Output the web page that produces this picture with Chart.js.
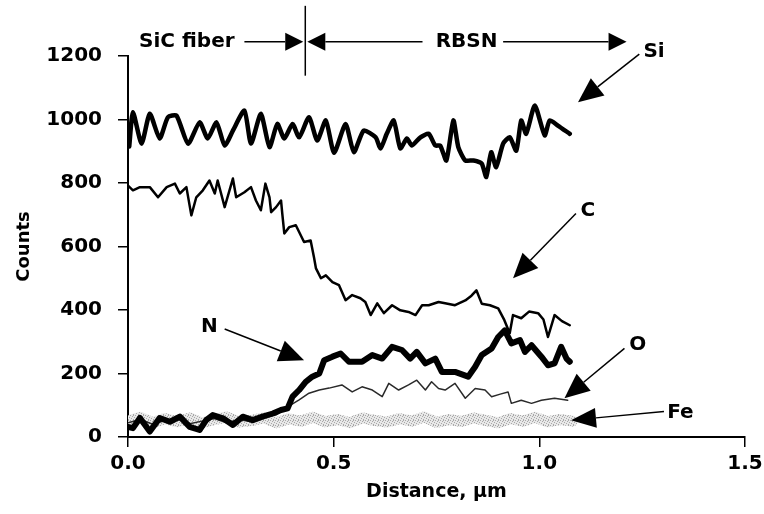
<!DOCTYPE html>
<html>
<head>
<meta charset="utf-8">
<script src="https://cdn.jsdelivr.net/npm/chart.js@4.4.1/dist/chart.umd.min.js"></script>
<style>
html, body { margin: 0; padding: 0; background: #fff; }
</style>
</head>
<body>
<canvas id="mychart" width="764" height="514"></canvas>
<script>
// line scan values (distance in um, counts)
var siX = [0.003, 0.012, 0.033, 0.053, 0.077, 0.097, 0.118, 0.146, 0.174, 0.194, 0.215, 0.235, 0.255, 0.283, 0.299, 0.323, 0.344, 0.363, 0.380, 0.400, 0.416, 0.440, 0.460, 0.481, 0.501, 0.529, 0.549, 0.573, 0.602, 0.614, 0.629, 0.646, 0.662, 0.678, 0.690, 0.711, 0.731, 0.747, 0.759, 0.774, 0.791, 0.803, 0.820, 0.840, 0.860, 0.871, 0.883, 0.895, 0.912, 0.928, 0.944, 0.956, 0.968, 0.989, 1.013, 1.025, 1.045, 1.074];
var siY = [915, 1023, 924, 1018, 940, 1007, 1012, 924, 991, 940, 991, 918, 965, 1028, 924, 1018, 913, 986, 940, 986, 944, 1007, 934, 997, 895, 986, 897, 965, 944, 909, 955, 997, 909, 940, 918, 944, 955, 918, 918, 871, 997, 913, 871, 871, 861, 819, 897, 850, 924, 944, 902, 997, 955, 1044, 950, 997, 981, 955];

var cX = [0.0, 0.012, 0.029, 0.053, 0.073, 0.094, 0.114, 0.126, 0.142, 0.154, 0.166, 0.182, 0.198, 0.211, 0.218, 0.235, 0.255, 0.263, 0.283, 0.299, 0.311, 0.323, 0.334, 0.344, 0.348, 0.360, 0.372, 0.375, 0.380, 0.392, 0.408, 0.428, 0.444, 0.452, 0.457, 0.469, 0.481, 0.497, 0.513, 0.529, 0.545, 0.565, 0.577, 0.590, 0.606, 0.622, 0.642, 0.662, 0.682, 0.699, 0.715, 0.731, 0.755, 0.771, 0.795, 0.820, 0.835, 0.847, 0.860, 0.880, 0.900, 0.915, 0.928, 0.936, 0.956, 0.975, 0.997, 1.010, 1.021, 1.037, 1.055, 1.074];
var cY = [792, 777, 787, 787, 755, 787, 798, 767, 787, 698, 755, 777, 808, 767, 808, 724, 814, 755, 771, 787, 745, 714, 798, 755, 708, 724, 745, 704, 641, 661, 667, 614, 619, 567, 531, 500, 509, 488, 478, 431, 447, 437, 425, 384, 421, 390, 415, 399, 394, 384, 415, 415, 425, 421, 415, 430, 445, 462, 420, 415, 405, 368, 327, 384, 374, 395, 390, 370, 315, 384, 365, 352];

var nX = [0.0, 0.012, 0.029, 0.053, 0.077, 0.102, 0.126, 0.150, 0.174, 0.190, 0.206, 0.231, 0.255, 0.279, 0.303, 0.327, 0.352, 0.372, 0.388, 0.400, 0.416, 0.432, 0.448, 0.465, 0.477, 0.497, 0.517, 0.537, 0.569, 0.594, 0.618, 0.642, 0.666, 0.686, 0.702, 0.723, 0.747, 0.763, 0.795, 0.827, 0.844, 0.860, 0.884, 0.900, 0.916, 0.932, 0.953, 0.965, 0.981, 1.005, 1.021, 1.037, 1.053, 1.066, 1.074];
var nY = [32, 28, 60, 17, 60, 48, 64, 32, 22, 53, 69, 59, 38, 64, 53, 64, 74, 85, 90, 127, 148, 174, 190, 200, 242, 253, 263, 237, 237, 258, 247, 284, 274, 247, 268, 232, 247, 205, 205, 190, 221, 258, 279, 315, 336, 295, 305, 268, 289, 253, 226, 232, 284, 247, 237];

var oX = [0.0, 0.03, 0.06, 0.09, 0.12, 0.15, 0.18, 0.21, 0.24, 0.27, 0.30, 0.33, 0.36, 0.388, 0.416, 0.440, 0.465, 0.489, 0.520, 0.545, 0.569, 0.594, 0.618, 0.634, 0.658, 0.682, 0.702, 0.723, 0.738, 0.755, 0.771, 0.795, 0.820, 0.844, 0.868, 0.884, 0.905, 0.924, 0.932, 0.956, 0.981, 1.005, 1.037, 1.069];
var oY = [45, 55, 40, 52, 60, 42, 50, 58, 45, 55, 48, 62, 70, 95, 117, 138, 148, 154, 164, 142, 158, 148, 127, 169, 148, 164, 179, 148, 174, 153, 148, 169, 122, 153, 148, 127, 135, 142, 106, 116, 106, 116, 122, 116];

var feX = [0.00, 0.03, 0.06, 0.09, 0.12, 0.15, 0.18, 0.21, 0.24, 0.27, 0.30, 0.33, 0.36, 0.39, 0.42, 0.45, 0.48, 0.51, 0.54, 0.57, 0.60, 0.63, 0.66, 0.69, 0.72, 0.75, 0.78, 0.81, 0.84, 0.87, 0.90, 0.93, 0.96, 0.99, 1.02, 1.05, 1.08];
var feY = [50, 62, 45, 58, 48, 60, 44, 55, 63, 47, 52, 60, 45, 57, 50, 62, 48, 55, 45, 60, 52, 47, 58, 50, 63, 46, 55, 49, 60, 52, 45, 58, 50, 62, 48, 55, 50];

var xTicks = [0, 0.5, 1.0, 1.5];

// labels and arrows, in data units
var labels = [
    {text: 'SiC fiber', x: 0.143, y: 1245},
    {text: 'RBSN', x: 0.823, y: 1245},
    {text: 'Si', x: 1.279, y: 1212},
    {text: 'C', x: 1.118, y: 714},
    {text: 'N', x: 0.198, y: 346},
    {text: 'O', x: 1.239, y: 289},
    {text: 'Fe', x: 1.343, y: 75}
];
var arrows = [
    {x0: 0.283, y0: 1245, x1: 0.426, y1: 1245, len: 18, half: 9},
    {x0: 0.716, y0: 1245, x1: 0.436, y1: 1245, len: 18, half: 9},
    {x0: 0.912, y0: 1245, x1: 1.212, y1: 1245, len: 18, half: 9},
    {x0: 1.243, y0: 1206, x1: 1.094, y1: 1054, len: 25, half: 11},
    {x0: 1.089, y0: 704, x1: 0.936, y1: 500, len: 25, half: 11},
    {x0: 0.235, y0: 340, x1: 0.428, y1: 242, len: 25, half: 11},
    {x0: 1.207, y0: 279, x1: 1.061, y1: 122, len: 25, half: 11},
    {x0: 1.303, y0: 80, x1: 1.077, y1: 53, len: 25, half: 10}
];
var divider = {x: 0.431, y0: 1358, y1: 1138};

function pts(xs, ys) {
    var out = [];
    for (var i = 0; i < xs.length; i++) out.push({x: xs[i], y: ys[i]});
    return out;
}

// stippled grey for the Fe trace
var pc = document.createElement('canvas');
pc.width = 5; pc.height = 5;
var pctx = pc.getContext('2d');
pctx.fillStyle = '#e8e8e8';
pctx.fillRect(0, 0, 5, 5);
pctx.fillStyle = '#a8a8a8';
[[0, 0], [2, 1], [4, 2], [1, 3], [3, 4], [3, 0]].forEach(function(p) { pctx.fillRect(p[0], p[1], 1, 1); });
var stipple = pctx.createPattern(pc, 'repeat');

var FONT = '"DejaVu Sans", "Liberation Sans", Arial, sans-serif';

var notesPlugin = {
    id: 'notes',
    afterDraw: function(chart) {
        var ctx = chart.ctx;
        var xs = chart.scales.x, ys = chart.scales.y;
        ctx.save();
        ctx.fillStyle = '#000';
        ctx.strokeStyle = '#000';
        ctx.font = 'bold 20px ' + FONT;
        ctx.textAlign = 'center';
        ctx.textBaseline = 'middle';
        labels.forEach(function(l) {
            ctx.fillText(l.text, xs.getPixelForValue(l.x), ys.getPixelForValue(l.y));
        });
        ctx.lineWidth = 1.5;
        arrows.forEach(function(a) {
            var px0 = xs.getPixelForValue(a.x0), py0 = ys.getPixelForValue(a.y0);
            var px1 = xs.getPixelForValue(a.x1), py1 = ys.getPixelForValue(a.y1);
            var ang = Math.atan2(py1 - py0, px1 - px0);
            var bx = px1 - a.len * Math.cos(ang), by = py1 - a.len * Math.sin(ang);
            ctx.beginPath();
            ctx.moveTo(px0, py0);
            ctx.lineTo(bx, by);
            ctx.stroke();
            ctx.beginPath();
            ctx.moveTo(px1, py1);
            ctx.lineTo(bx + a.half * Math.sin(ang), by - a.half * Math.cos(ang));
            ctx.lineTo(bx - a.half * Math.sin(ang), by + a.half * Math.cos(ang));
            ctx.closePath();
            ctx.fill();
        });
        var dx = xs.getPixelForValue(divider.x);
        ctx.beginPath();
        ctx.moveTo(dx, ys.getPixelForValue(divider.y0));
        ctx.lineTo(dx, ys.getPixelForValue(divider.y1));
        ctx.stroke();
        ctx.restore();
    }
};

var config = {
    type: 'line',
    data: {
        datasets: [
            {label: 'Si', data: pts(siX, siY), borderColor: '#000', borderWidth: 4.5, tension: 0.2, order: 1},
            {label: 'C', data: pts(cX, cY), borderColor: '#000', borderWidth: 2.5, order: 2},
            {label: 'N', data: pts(nX, nY), borderColor: '#000', borderWidth: 6, order: 3},
            {label: 'O', data: pts(oX, oY), borderColor: '#2a2a2a', borderWidth: 1.5, order: 4},
            {label: 'Fe', data: pts(feX, feY), borderColor: stipple, borderWidth: 11, order: 5}
        ]
    },
    options: {
        responsive: false,
        devicePixelRatio: 1,
        animation: false,
        elements: {point: {radius: 0}, line: {fill: false, borderJoinStyle: 'round', borderCapStyle: 'round'}},
        layout: {padding: {top: 56, right: 19, left: 0, bottom: 11}},
        plugins: {legend: {display: false}, tooltip: {enabled: false}},
        scales: {
            x: {
                type: 'linear', min: 0, max: 1.5,
                afterBuildTicks: function(s) { s.ticks = xTicks.map(function(v) { return {value: v}; }); },
                afterFit: function(s) { s.height = 66; s.paddingLeft = 0; s.paddingRight = 0; },
                ticks: {color: '#000', font: {family: FONT, size: 20, weight: 'bold'}, padding: 5, maxRotation: 0, autoSkip: false,
                    callback: function(v) { return v.toFixed(1); }},
                grid: {drawOnChartArea: false, drawTicks: true, tickLength: 10, color: '#000', lineWidth: 1.5},
                border: {display: true, color: '#000', width: 2},
                title: {display: true, text: 'Distance, µm', color: '#000', font: {family: FONT, size: 19, weight: 'bold'}, padding: {top: 2, bottom: 0}}
            },
            y: {
                min: 0, max: 1200,
                afterFit: function(s) { s.width = 128; },
                ticks: {stepSize: 200, color: '#000', font: {family: FONT, size: 20, weight: 'bold'}, padding: 16,
                    callback: function(v) { return String(v); }},
                grid: {drawOnChartArea: false, drawTicks: true, tickLength: 10, color: '#000', lineWidth: 1.5},
                border: {display: true, color: '#000', width: 2},
                title: {display: true, text: 'Counts', color: '#000', font: {family: FONT, size: 18, weight: 'bold'}, padding: {top: 14, bottom: 0}}
            }
        }
    },
    plugins: [notesPlugin]
};

var ctx = document.getElementById('mychart').getContext('2d');
window.myChart = new Chart(ctx, config);
</script>
</body>
</html>
